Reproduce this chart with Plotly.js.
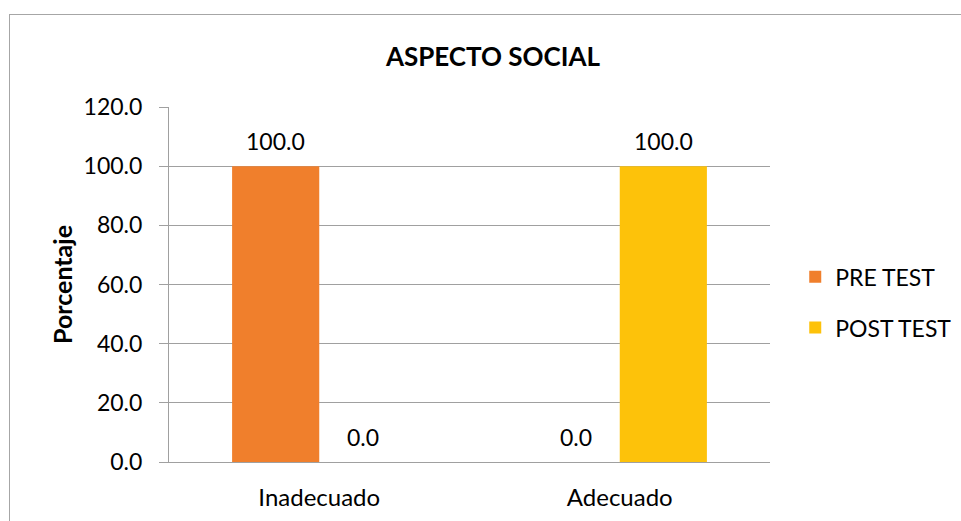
<!DOCTYPE html>
<html>
<head>
<meta charset="utf-8">
<script src="https://cdn.plot.ly/plotly-3.0.1.min.js"></script>
<style>
  html, body { margin: 0; padding: 0; background: #fff; overflow: hidden; }
  #chart { position: absolute; left: 0; top: 0; width: 961px; height: 521px; }
  #frame { position: absolute; left: 9px; top: 14px; width: 1200px; height: 800px;
           border: 1.5px solid #a6a6a6; pointer-events: none; box-sizing: border-box; }
</style>
</head>
<body>
<div id="chart"></div>
<div id="frame"></div>
<script>
const categories = ['Inadecuado', 'Adecuado'];
const seriesNames = ['PRE TEST', 'POST TEST'];
const preTest = [100.0, 0.0];
const postTest = [0.0, 100.0];
const yTicks = [0, 20, 40, 60, 80, 100, 120];

const FONT = 'Lato, "Open Sans", sans-serif';
const colors = ['#F07F2C', '#FDC20A'];
const series = [preTest, postTest];

const traces = series.map((vals, i) => ({
  type: 'bar',
  name: seriesNames[i],
  x: categories,
  y: vals,
  marker: { color: colors[i] },
  legendgroup: 'g' + i,
  hoverinfo: 'none'
}));

const halfBarPx = 43.5;
const annotations = [];
series.forEach((vals, i) => {
  vals.forEach((v, j) => {
    annotations.push({
      x: categories[j], y: v, xref: 'x', yref: 'y',
      xshift: i === 0 ? -halfBarPx : halfBarPx,
      yshift: 25, yanchor: 'middle', xanchor: 'center',
      text: v.toFixed(1), showarrow: false,
      font: { family: FONT, size: 23, color: '#000' }
    });
  });
});

const layout = {
  width: 961, height: 521,
  margin: { l: 169, r: 191, t: 107, b: 59, autoexpand: false },
  paper_bgcolor: '#fff', plot_bgcolor: '#fff',
  font: { family: FONT, color: '#000' },
  title: {
    text: '<b>ASPECTO SOCIAL</b>',
    font: { family: FONT, size: 26, color: '#000' },
    xref: 'container', x: 0.513, xanchor: 'center',
    yref: 'container', y: 1 - 57 / 521, yanchor: 'middle'
  },
  barmode: 'group',
  bargap: 0.42,
  bargroupgap: 0,
  showlegend: true,
  legend: {
    x: 1.042, xanchor: 'left', y: 0.45, yanchor: 'middle',
    font: { family: FONT, size: 23, color: '#000' },
    traceorder: 'grouped', tracegroupgap: 18,
    bgcolor: 'rgba(0,0,0,0)'
  },
  xaxis: {
    type: 'category',
    showline: true, linecolor: '#a0a0a0', linewidth: 1,
    ticks: '', showgrid: false,
    tickfont: { family: FONT, size: 24, color: '#000' },
    ticklabelstandoff: 14,
    fixedrange: true
  },
  yaxis: {
    range: [0, 120],
    tickvals: yTicks,
    tickformat: '.1f',
    ticks: 'outside', ticklen: 9, tickcolor: '#a0a0a0', tickwidth: 1,
    showline: true, linecolor: '#a0a0a0', linewidth: 1,
    showgrid: true, gridcolor: '#a0a0a0', gridwidth: 1,
    zeroline: false,
    tickfont: { family: FONT, size: 23, color: '#000' },
    ticklabelstandoff: 12,
    title: { text: '<b>Porcentaje</b>', font: { family: FONT, size: 25, color: '#000' }, standoff: 3 },
    fixedrange: true
  },
  annotations: annotations
};

Plotly.newPlot('chart', traces, layout, { displayModeBar: false, staticPlot: true });
</script>
</body>
</html>
